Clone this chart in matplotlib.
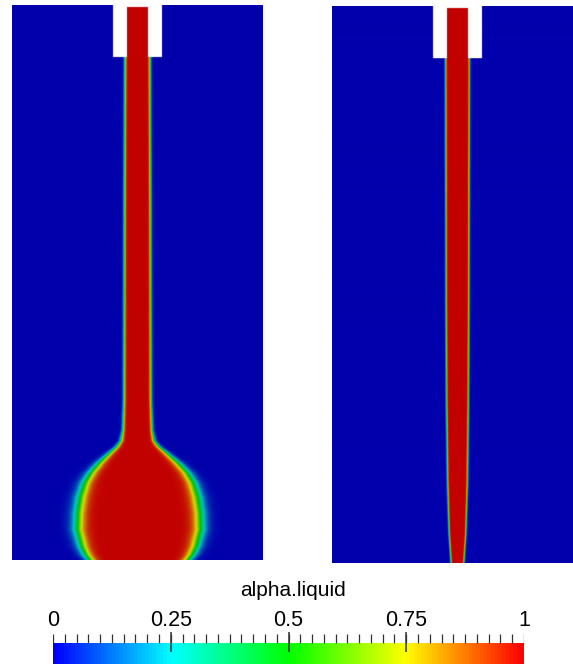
"""Two alpha.liquid snapshots of a falling jet, with a shared colour bar."""

import matplotlib

matplotlib.use("Agg")

import numpy as np
from matplotlib import pyplot as plt
from matplotlib.colors import LinearSegmentedColormap

# domain is 251 cells wide and 555 deep; radius measured from the jet axis
DOMAIN_HALF_WIDTH = 125.5
DOMAIN_DEPTH = 555.0
NOTCH_HALF_WIDTH = 24.5
NOTCH_DEPTH = 52.0
NOZZLE_RADIUS = 10.5
NOZZLE_TOP = 2.0

# interface radius (alpha = 0.5), thickness and axis offset versus depth
left_depth = [52, 175, 395, 425, 436, 442, 448, 458, 468, 478, 492, 508, 525, 542, 550, 555]
left_radius = [12.5, 13, 13.5, 14.5, 16.5, 21, 28, 39, 48, 54, 58.5, 61, 61.5, 57, 53, 49]
left_width = [1.3, 1.3, 1.4, 1.6, 2.2, 3, 4, 5.5, 6.5, 7, 7.5, 7.5, 7.5, 7, 6.5, 6]
left_offset = [0, 0, 0, 0, 0, 0.3, 0.6, 1, 1.5, 1.5, 1.5, 1.5, 1.5, 1.5, 1.5, 1.5]

right_depth = [52, 295, 395, 475, 525, 555]
right_radius = [12, 11.5, 11, 10, 8.5, 6.5]
right_width = [0.9, 0.9, 0.9, 0.9, 0.8, 0.8]
right_offset = [0, 0, 0, 0, 0, 0]

cbar_ticks = [0, 0.25, 0.5, 0.75, 1]
cbar_labels = ["0", "0.25", "0.5", "0.75", "1"]
cbar_title = "alpha.liquid"

FIG_W, FIG_H = 573, 665


def px_axes(fig, x0, y0, x1, y1):
    """Add axes from pixel box (top-left origin)."""
    return fig.add_axes([x0 / FIG_W, 1 - y1 / FIG_H, (x1 - x0) / FIG_W, (y1 - y0) / FIG_H])


def alpha_field(depth, radius, width, offset, res=2):
    xs = np.linspace(-DOMAIN_HALF_WIDTH, DOMAIN_HALF_WIDTH, int(2 * DOMAIN_HALF_WIDTH * res))
    ys = np.linspace(0, DOMAIN_DEPTH, int(DOMAIN_DEPTH * res))
    xx, yy = np.meshgrid(xs, ys)
    r_int = np.interp(yy, depth, radius)
    w_int = np.interp(yy, depth, width)
    c_int = np.interp(yy, depth, offset)
    alpha = 0.5 * (1 - np.tanh((np.abs(xx - c_int) - r_int) / w_int))
    notch = (np.abs(xx) < NOTCH_HALF_WIDTH) & (yy < NOTCH_DEPTH)
    nozzle = (np.abs(xx) < NOZZLE_RADIUS) & (yy >= NOZZLE_TOP)
    alpha[notch] = np.nan
    alpha[notch & nozzle] = 1.0
    return np.ma.masked_invalid(alpha)


rainbow = LinearSegmentedColormap.from_list(
    "rainbow_pv", ["#0000ff", "#00ffff", "#00ff00", "#ffff00", "#ff0000"], N=128
)
shaded = LinearSegmentedColormap.from_list(
    "rainbow_shaded", ["#0000ac", "#00c4c4", "#00c000", "#dada00", "#c20000"], N=256
)
shaded.set_bad("white")

plt.rcParams["font.family"] = ["Liberation Sans", "DejaVu Sans"]
fig = plt.figure(figsize=(FIG_W / 100, FIG_H / 100), dpi=100)

panels = [
    ((12, 5, 263, 560), left_depth, left_radius, left_width, left_offset),
    ((332, 6, 583, 563), right_depth, right_radius, right_width, right_offset),
]
for box, depth, radius, width, offset in panels:
    ax = px_axes(fig, *box)
    field = alpha_field(depth, radius, width, offset)
    ax.imshow(
        field,
        cmap=shaded,
        vmin=0,
        vmax=1,
        extent=(-DOMAIN_HALF_WIDTH, DOMAIN_HALF_WIDTH, DOMAIN_DEPTH, 0),
        aspect="auto",
        interpolation="bilinear",
    )
    ax.set_xlim(-DOMAIN_HALF_WIDTH, DOMAIN_HALF_WIDTH)
    ax.set_ylim(DOMAIN_DEPTH, 0)
    ax.axis("off")

# colour bar drawn as an image with hand-made ticks
cax = px_axes(fig, 53, 643, 524, 664)
gradient = np.linspace(0, 1, 512)[None, :]
cax.imshow(gradient, cmap=rainbow, extent=(0, 1, 0, 1), aspect="auto")
cax.set_xlim(0, 1)
cax.set_ylim(0, 1)
cax.axis("off")

tax = px_axes(fig, 53, 600, 524, 664)
tax.set_xlim(0, 1)
tax.set_ylim(64, 0)
tax.axis("off")
minor = np.linspace(0, 1, 41)
tax.vlines(minor, 34, 43, color="#333333", linewidth=0.9)
tax.vlines(cbar_ticks[1:-1], 32, 52, color="#333333", linewidth=1.1)
for tick, label in zip(cbar_ticks, cbar_labels):
    tax.text(tick, 26, label, ha="center", va="baseline", fontsize=15.5, color="black")
fig.text(293 / FIG_W, 1 - 590 / FIG_H, cbar_title, ha="center", va="center", fontsize=15)

fig.savefig("out.png", dpi=100)
